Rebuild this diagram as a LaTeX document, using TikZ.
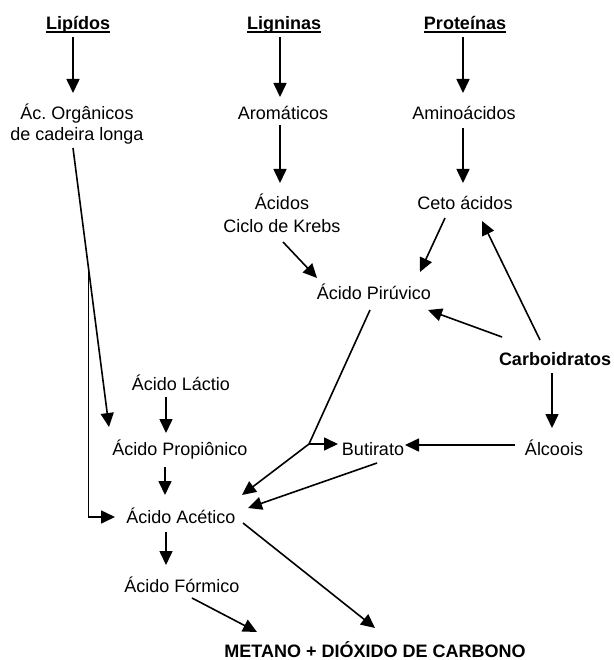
\documentclass[tikz,border=0pt]{standalone}
\usepackage{fontspec}
\setmainfont{Liberation Sans}
\usetikzlibrary{arrows.meta,calc}
\newcommand\myul[1]{\setbox0\hbox{#1}\rlap{\rule[-2.7pt]{\wd0}{1.3pt}}\box0}
\frenchspacing
\begin{document}
\begin{tikzpicture}[x=1pt,y=-1pt,
  txt/.style={inner sep=0pt,anchor=base,font=\fontsize{18}{22}\selectfont},
  two/.style={txt,align=center},
  hdr/.style={txt,font=\fontsize{18}{22}\selectfont\bfseries},
  arr/.style={line width=1.6pt,-{Triangle[length=14pt,width=13pt]}},
  ln/.style={line width=1.6pt}]
\fill[white] (0,0) rectangle (613,660);
\useasboundingbox (0,0) rectangle (613,660);
% nodes
\node[hdr] (lip) at (78,30) {\myul{Lipídos}};
\node[hdr] (lig) at (284,30) {\myul{Ligninas}};
\node[hdr] (pro) at (465,30) {\myul{Proteínas}};
\node[two,font=\fontsize{18}{21}\selectfont] (aco) at (77,141) {Ác.\ Orgânicos\\de cadeira longa};
\node[txt] (aro) at (283,120) {Aromáticos};
\node[txt] (ami) at (464,120) {Aminoácidos};
\node[two,font=\fontsize{18}{23}\selectfont] (acc) at (282,232) {Ácidos\\Ciclo de Krebs};
\node[txt] (ceto) at (465,210) {Ceto ácidos};
\node[txt] (piru) at (374,299) {Ácido Pirúvico};
\node[hdr] (carb) at (555,365) {Carboidratos};
\node[txt] (lac) at (181,390) {Ácido Láctio};
\node[txt] (prop) at (180,455) {Ácido Propiônico};
\node[txt] (but) at (373,455) {Butirato};
\node[txt] (alc) at (554,455) {Álcoois};
\node[txt] (acet) at (181,523) {Ácido Acético};
\node[txt] (form) at (182,592) {Ácido Fórmico};
\node[hdr] (met) at (375,657) {METANO + DIÓXIDO DE CARBONO};
% connectors
\draw[arr] ($(lip.base)+(-5,7)$) -- ($(aco.base)+(-4,-48)$);
\draw[arr] ($(lig.base)+(-4,7)$) -- ($(aro.base)+(-3,-23)$);
\draw[arr] ($(pro.base)+(-2,7)$) -- ($(ami.base)+(-1,-27)$);
\draw[arr] ($(aro.base)+(-3,5)$) -- ($(acc.base)+(-2,-49)$);
\draw[arr] ($(ami.base)+(-1,8)$) -- ($(ceto.base)+(-2,-27)$);
\draw[arr] ($(acc.base)+(1,10)$) -- ($(piru.base)+(-57,-21)$);
\draw[arr] ($(ceto.base)+(-20,8)$) -- ($(piru.base)+(46,-27)$);
\draw[arr] ($(carb.base)+(-15,-25)$) -- ($(ceto.base)+(17,11)$);
\draw[arr] ($(carb.base)+(-53,-28)$) -- ($(piru.base)+(54,11)$);
\draw[arr] ($(carb.base)+(-3,8)$) -- ($(alc.base)+(-2,-27)$);
\draw[arr] ($(alc.base)+(-39,-10)$) -- ($(but.base)+(32,-10)$);
\coordinate (j) at ($(but.base)+(-64,-11)$);
\draw[ln] ($(piru.base)+(-4,11)$) -- (j);
\draw[arr] (j) -- ($(but.base)+(-35,-11)$);
\draw[arr] (j) -- ($(acet.base)+(61,-28)$);
\draw[arr] ($(but.base)+(4,8)$) -- ($(acet.base)+(67,-15)$);
\coordinate (ls) at ($(aco.base)+(-4,7)$);
\coordinate (le) at ($(prop.base)+(-71,-28)$);
\coordinate (b) at ($(ls)!0.43!(le)$);
\draw[arr] (ls) -- (le);
\draw[arr] (b) |- ($(acet.base)+(-66,-6)$);
\draw[arr] ($(lac.base)+(-15,7)$) -- ($(prop.base)+(-14,-22)$);
\draw[arr] ($(prop.base)+(-15,12)$) -- ($(acet.base)+(-16,-28)$);
\draw[arr] ($(acet.base)+(-15,9)$) -- ($(form.base)+(-16,-27)$);
\draw[arr] ($(form.base)+(10,6)$) -- ($(met.base)+(-118,-25)$);
\draw[arr] ($(acet.base)+(62,0)$) -- ($(met.base)+(0,-29)$);
\end{tikzpicture}
\end{document}
